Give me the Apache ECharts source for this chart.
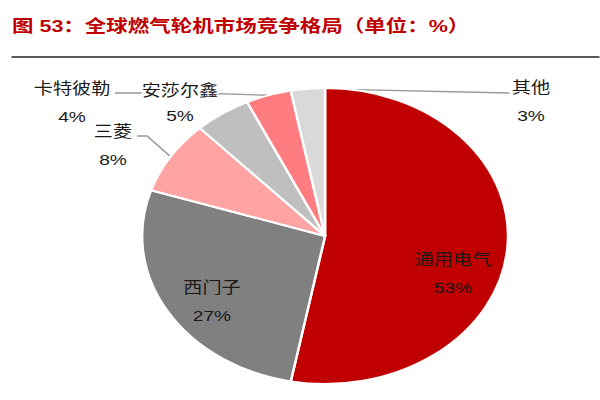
<!DOCTYPE html>
<html>
<head>
<meta charset="utf-8">
<script src="https://cdn.jsdelivr.net/npm/echarts@6/dist/echarts.min.js"></script>
<style>
  html, body { margin: 0; padding: 0; background: #fff; overflow: hidden; }
  #wrap { width: 600px; height: 400px; overflow: hidden; }
  /* reference picture is stretched horizontally; reproduce with a uniform x-scale */
  #chart { width: 485.4px; height: 400px; transform: scaleX(1.236); transform-origin: 0 0; }
</style>
</head>
<body>
<div id="wrap"><div id="chart"></div></div>
<script>
// ---- data ----
const titleText = '图 53：全球燃气轮机市场竞争格局（单位：%）';
const companies = ['通用电气', '西门子', '三菱', '安莎尔鑫', '卡特彼勒', '其他'];
const shares = [53, 27, 8, 5, 4, 3];

// ---- styles ----
const sliceColors = ['#C00000', '#808080', '#FFA3A3', '#BFBFBF', '#FF7C80', '#D9D9D9'];
const showLine = [false, false, true, false, true, true];
const labelAnchor = [      // label block centres (chart px, before x-stretch)
  [366.5, 274], [171.5, 301.5], [91.4, 146], [145.6, 105], [58.3, 102.5], [429.6, 102]
];
const lineBends = [null, null, [[119, 136], [111, 136]], null, [[160, 93], [93, 93]], [[412.6, 93], [412.6, 93]]];

const FONT = '"Liberation Sans", Arial, "Noto Sans CJK SC", sans-serif';

const chart = echarts.init(document.getElementById('chart'), null, { renderer: 'svg' });

const dataItems = companies.map((name, i) => ({
  name: name,
  value: shares[i],
  itemStyle: { color: sliceColors[i] },
  label: Object.assign(
    { position: (i < 2) ? 'inside' : 'outside' },
    i === 3 ? {
      formatter: '{n|{b}}\n{c}%',
      rich: { n: { backgroundColor: '#fff', fontFamily: FONT, fontSize: 15.5, lineHeight: 22, color: '#1a1a1a' } }
    } : {}
  ),
  labelLine: { show: showLine[i] }
}));

chart.setOption({
  animation: false,
  graphic: [
    {
      type: 'text', left: 9.7, top: 17.5, z: 10,
      style: { text: titleText, font: 'bold 17.4px ' + FONT, fill: '#C00000' }
    },
    {
      type: 'line', z: 10,
      shape: { x1: 9.3, y1: 57, x2: 486, y2: 57 },
      style: { stroke: '#595959', lineWidth: 2 }
    }
  ],
  series: [{
    type: 'pie',
    center: [263, 236],
    radius: [0, 148],
    startAngle: 90,
    clockwise: true,
    avoidLabelOverlap: false,
    itemStyle: { borderColor: '#fff', borderWidth: 2 },
    label: {
      formatter: '{b}\n{c}%',
      fontFamily: FONT,
      fontSize: 15.5,
      lineHeight: 28,
      color: '#1a1a1a',
      align: 'center'
    },
    labelLine: {
      show: true,
      length: 10, length2: 10,
      lineStyle: { color: '#999999', width: 1.3 }
    },
    labelLayout: function (params) {
      const i = params.dataIndex;
      const out = {
        x: labelAnchor[i][0], y: labelAnchor[i][1],
        align: 'center', verticalAlign: 'middle'
      };
      if (showLine[i] && params.labelLinePoints) {
        const start = params.labelLinePoints[0];
        out.labelLinePoints = [start].concat(lineBends[i]);
      }
      return out;
    },
    emphasis: { disabled: true },
    data: dataItems
  }]
});
</script>
</body>
</html>
